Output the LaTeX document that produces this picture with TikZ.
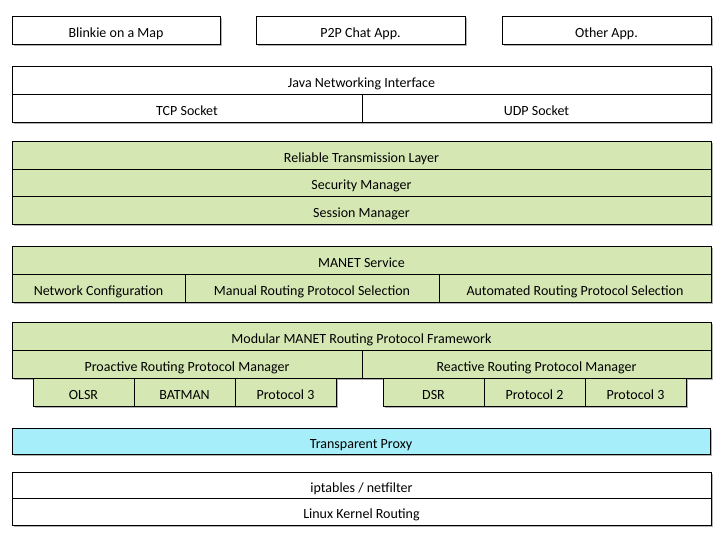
\documentclass[tikz,border=0pt]{standalone}
\usepackage{fontspec}
\setmainfont{Carlito}
\usetikzlibrary{shadows}
\definecolor{lgreen}{HTML}{D5E8B4}
\definecolor{lcyan}{HTML}{A6EEFA}
\tikzset{
  box/.style={draw=black, line width=0.9pt, fill=white, inner sep=0pt, outer sep=0pt,
    anchor=center, font=\fontsize{14}{16}\selectfont, text height=14pt, text depth=0pt,
    drop shadow={shadow xshift=1.8pt, shadow yshift=-1.8pt, fill=black, opacity=0.3}},
  gbox/.style={box, fill=lgreen},
  cbox/.style={box, fill=lcyan},
}
\newcommand\bx[7]{%
  \pgfmathsetmacro\bxcx{(#3+#5)/2}%
  \pgfmathsetmacro\bxcy{(#4+#6)/2}%
  \pgfmathsetmacro\bxw{#5-#3}%
  \pgfmathsetmacro\bxh{#6-#4}%
  \node[#1, minimum width=\bxw pt, minimum height=\bxh pt] (#2) at (\bxcx,\bxcy) {#7};}
\begin{document}
\begin{tikzpicture}[x=1pt,y=-1pt]
\useasboundingbox (0,0) rectangle (724,539);
% applications
\bx{box}{blinkie}{12}{16}{220}{44}{Blinkie on a Map}
\bx{box}{p2p}{256}{16}{465}{44}{P2P Chat App.}
\bx{box}{other}{502}{16}{711}{44}{Other App.}
% java
\bx{box}{java}{12}{66}{711}{94}{Java Networking Interface}
\bx{box}{tcp}{12}{94}{362}{122}{TCP Socket}
\bx{box}{udp}{362}{94}{711}{122}{UDP Socket}
% reliable
\bx{gbox}{rel}{12}{141}{711}{169}{Reliable Transmission Layer}
\bx{gbox}{sec}{12}{169}{711}{196}{Security Manager}
\bx{gbox}{sess}{12}{196}{711}{224}{Session Manager}
% manet service
\bx{gbox}{manet}{12}{246}{711}{274}{MANET Service}
\bx{gbox}{netcfg}{12}{274}{185}{302}{Network Configuration}
\bx{gbox}{manual}{185}{274}{439}{302}{Manual Routing Protocol Selection}
\bx{gbox}{auto}{439}{274}{711}{302}{Automated Routing Protocol Selection}
% framework
\bx{gbox}{modular}{12}{322}{711}{350}{Modular MANET Routing Protocol Framework}
\bx{gbox}{proactive}{12}{350}{362}{378}{Proactive Routing Protocol Manager}
\bx{gbox}{reactive}{362}{350}{711}{378}{Reactive Routing Protocol Manager}
\bx{gbox}{olsr}{33}{378}{134}{406}{OLSR}
\bx{gbox}{batman}{134}{378}{235}{406}{BATMAN}
\bx{gbox}{pthreea}{235}{378}{336}{406}{Protocol 3}
\bx{gbox}{dsr}{383}{378}{484}{406}{DSR}
\bx{gbox}{ptwo}{484}{378}{585}{406}{Protocol 2}
\bx{gbox}{pthreeb}{585}{378}{686}{406}{Protocol 3}
% proxy
\bx{cbox}{proxy}{12}{428}{710}{454}{Transparent Proxy}
% kernel
\bx{box}{ipt}{12}{472}{711}{498}{iptables / netfilter}
\bx{box}{linux}{12}{498}{711}{525}{Linux Kernel Routing}
\end{tikzpicture}
\end{document}
